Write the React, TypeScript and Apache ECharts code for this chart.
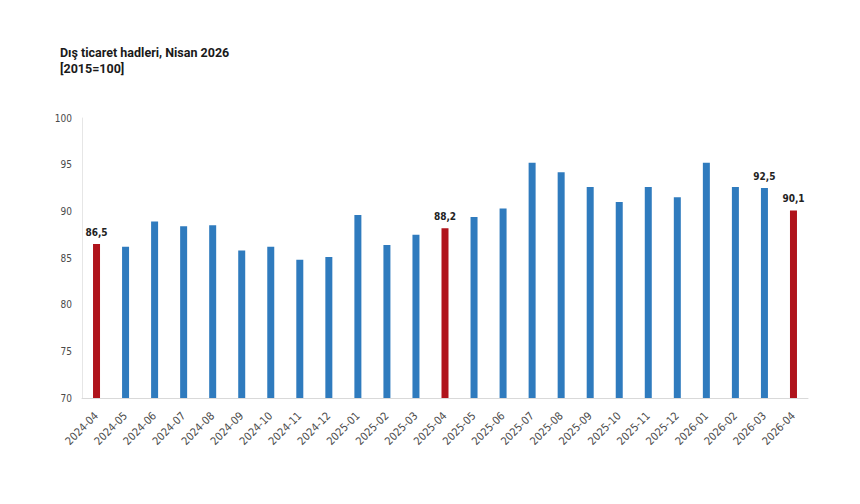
import React, { useEffect, useRef } from "react";
import * as echarts from "echarts";

const categories = [
  "2024-04", "2024-05", "2024-06", "2024-07", "2024-08", "2024-09", "2024-10",
  "2024-11", "2024-12", "2025-01", "2025-02", "2025-03", "2025-04", "2025-05",
  "2025-06", "2025-07", "2025-08", "2025-09", "2025-10", "2025-11", "2025-12",
  "2026-01", "2026-02", "2026-03", "2026-04",
];
const values = [
  86.5, 86.2, 88.9, 88.4, 88.5, 85.8, 86.2, 84.8, 85.1, 89.6, 86.4, 87.5, 88.2,
  89.4, 90.3, 95.2, 94.2, 92.6, 91.0, 92.6, 91.5, 95.2, 92.6, 92.5, 90.1,
];
const highlighted = ["2024-04", "2025-04", "2026-04"];
const labelled = ["2024-04", "2025-04", "2026-03", "2026-04"];
const titleLines = ["Dış ticaret hadleri, Nisan 2026", "[2015=100]"];
const yMin = 70;
const yMax = 100;
const yStep = 5;

const BLUE = "#2F7BBE";
const RED = "#B0141C";
const NARROW = "'Liberation Sans Narrow', 'DejaVu Sans Condensed', Arial, sans-serif";

export default function App() {
  const ref = useRef<HTMLDivElement>(null);
  useEffect(() => {
    if (!ref.current) return;
    const chart = echarts.init(ref.current, null, { renderer: "svg" });
    chart.setOption({
      animation: false,
      backgroundColor: "#ffffff",
      title: {
        text: titleLines.join("\n"),
        left: 55,
        top: 39,
        textStyle: {
          fontFamily: "Roboto, Inter, sans-serif",
          fontSize: 12.5,
          fontWeight: "bold",
          color: "#1a1a1a",
          lineHeight: 16,
        },
      },
      grid: { left: 82, right: 52, top: 118, bottom: 106, containLabel: false },
      xAxis: {
        type: "category",
        data: categories,
        axisLine: { lineStyle: { color: "#d9d9d9" } },
        axisTick: { show: false },
        axisLabel: {
          rotate: 45,
          interval: 0,
          margin: 16,
          color: "#4a4a4a",
          fontSize: 11,
          fontFamily: NARROW,
        },
      },
      yAxis: {
        type: "value",
        min: yMin,
        max: yMax,
        interval: yStep,
        axisLine: { show: true, lineStyle: { color: "#e6e6e6" } },
        axisTick: { show: false },
        splitLine: { show: false },
        axisLabel: {
          color: "#4a4a4a",
          fontSize: 10,
          margin: 10,
          fontFamily: NARROW,
        },
      },
      series: [
        {
          type: "bar",
          barWidth: 7,
          data: values.map((v, i) => {
            const c = categories[i];
            return {
              value: v,
              itemStyle: { color: highlighted.includes(c) ? RED : BLUE },
              label: {
                show: labelled.includes(c),
                position: "top",
                distance: 7,
                formatter: (p: any) => String(p.value).replace(".", ","),
                fontSize: 10,
                fontWeight: "bold",
                color: "#222",
                fontFamily: NARROW,
              },
            };
          }),
        },
      ],
    });
    return () => chart.dispose();
  }, []);
  return (
    <div
      ref={ref}
      style={{ position: "fixed", left: 0, top: 0, width: 860, height: 504 }}
    />
  );
}
